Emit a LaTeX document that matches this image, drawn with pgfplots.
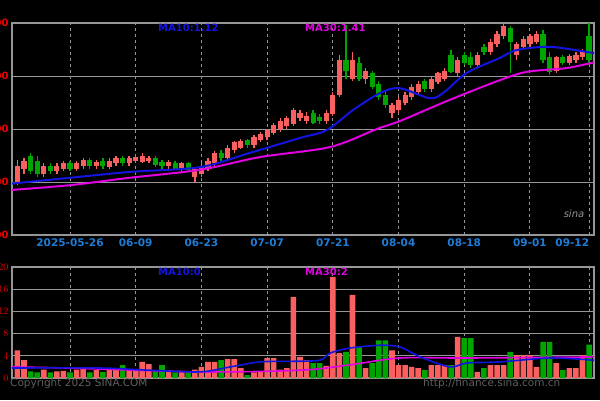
\documentclass[border=0pt]{standalone}
\usepackage{fontspec}
\setmainfont{DejaVu Sans}
\usepackage{pgfplots}
\usepackage{pgfplotstable}
\pgfplotsset{compat=1.18}
\definecolor{upred}{RGB}{250,96,96}
\definecolor{dngreen}{RGB}{0,165,0}
\definecolor{maten}{RGB}{20,20,225}
\definecolor{mathirty}{RGB}{225,0,225}
\definecolor{gridgray}{RGB}{150,150,150}
\definecolor{datblue}{RGB}{30,125,215}
\definecolor{axred}{RGB}{240,0,0}
\definecolor{textgray}{RGB}{95,95,95}

% daily bars: index (0 = 2025-05-26), open, high, low, close, volume
\pgfplotstableread{
i o h l c v
-8 9.00 9.42 8.95 9.30 5.0
-7 9.25 9.45 9.15 9.40 3.2
-6 9.50 9.55 9.15 9.20 1.2
-5 9.40 9.50 9.10 9.15 1.0
-4 9.15 9.35 9.10 9.30 1.5
-3 9.30 9.35 9.15 9.20 1.0
-2 9.20 9.35 9.15 9.30 1.2
-1 9.25 9.40 9.20 9.35 1.3
0 9.35 9.40 9.20 9.25 1.0
1 9.25 9.40 9.20 9.35 1.5
2 9.30 9.45 9.25 9.42 1.8
3 9.42 9.45 9.25 9.30 1.0
4 9.30 9.42 9.25 9.38 1.4
5 9.40 9.45 9.25 9.30 1.1
6 9.28 9.45 9.25 9.40 1.6
7 9.35 9.50 9.30 9.45 1.5
8 9.45 9.50 9.30 9.35 2.3
9 9.35 9.50 9.30 9.45 1.4
10 9.40 9.52 9.35 9.48 1.6
11 9.38 9.55 9.35 9.50 2.9
12 9.40 9.50 9.35 9.45 2.5
13 9.45 9.50 9.28 9.32 1.2
14 9.38 9.42 9.25 9.30 2.3
15 9.30 9.42 9.25 9.38 1.4
16 9.35 9.40 9.22 9.25 1.0
17 9.25 9.38 9.20 9.35 1.3
18 9.35 9.38 9.18 9.22 1.2
19 9.10 9.28 9.00 9.25 1.5
20 9.15 9.35 9.10 9.30 2.0
21 9.25 9.45 9.20 9.40 2.9
22 9.35 9.58 9.30 9.55 2.9
23 9.55 9.60 9.40 9.45 3.2
24 9.45 9.70 9.40 9.65 3.4
25 9.60 9.78 9.55 9.75 3.4
26 9.65 9.82 9.62 9.78 1.8
27 9.80 9.82 9.65 9.70 0.5
28 9.70 9.88 9.65 9.85 1.0
29 9.80 9.95 9.75 9.90 1.2
30 9.85 10.00 9.80 9.98 3.6
31 9.92 10.12 9.88 10.08 3.6
32 10.00 10.20 9.95 10.15 1.5
33 10.05 10.25 10.00 10.20 1.8
34 10.10 10.40 10.05 10.35 14.6
35 10.20 10.35 10.15 10.30 3.8
36 10.15 10.32 10.10 10.25 3.2
37 10.30 10.35 10.10 10.12 2.7
38 10.22 10.28 10.10 10.15 2.7
39 10.15 10.35 10.10 10.30 2.2
40 10.28 10.70 10.25 10.65 18.2
41 10.65 11.40 10.60 11.30 4.5
42 11.30 11.96 10.95 11.10 4.7
43 10.95 11.45 10.90 11.30 15.0
44 11.25 11.35 10.90 10.95 5.6
45 10.95 11.15 10.85 11.10 1.8
46 11.05 11.10 10.75 10.80 2.7
47 10.85 10.90 10.55 10.60 6.8
48 10.65 10.70 10.40 10.45 6.8
49 10.30 10.50 10.20 10.45 5.0
50 10.35 10.60 10.30 10.55 2.3
51 10.50 10.70 10.45 10.65 2.3
52 10.60 10.85 10.55 10.80 2.0
53 10.70 10.90 10.65 10.85 1.8
54 10.90 10.95 10.70 10.75 1.4
55 10.75 10.98 10.70 10.95 2.3
56 10.88 11.08 10.85 11.05 2.3
57 10.95 11.15 10.90 11.10 2.3
58 11.40 11.50 11.05 11.08 2.3
59 11.05 11.35 11.00 11.30 7.4
60 11.40 11.45 11.20 11.25 7.2
61 11.35 11.45 11.15 11.20 7.2
62 11.20 11.45 11.15 11.40 1.1
63 11.55 11.60 11.40 11.45 1.8
64 11.45 11.70 11.40 11.65 2.3
65 11.60 11.85 11.55 11.80 2.3
66 11.75 12.00 11.70 11.95 2.3
67 11.90 11.95 11.05 11.65 4.7
68 11.40 11.65 11.30 11.60 4.1
69 11.55 11.75 11.50 11.70 4.1
70 11.60 11.80 11.55 11.75 4.1
71 11.65 11.85 11.60 11.80 2.0
72 11.80 11.87 11.25 11.30 6.5
73 11.35 11.45 11.02 11.08 6.5
74 11.10 11.38 11.05 11.35 2.7
75 11.35 11.40 11.20 11.25 1.4
76 11.25 11.42 11.20 11.38 1.8
77 11.30 11.45 11.25 11.40 1.8
78 11.35 11.50 11.30 11.45 4.1
79 11.75 12.00 11.20 11.30 6.0
}\kline

\pgfplotsset{
  panel/.style={
    scale only axis, width=582pt,
    xmin=-8.83, xmax=79.75,
    xtick={0,10,20,30,40,50,60,70,79},
    axis line style={draw=gridgray, line width=1.3pt},
    xmajorgrids, ymajorgrids,
    x grid style={draw=gridgray, dashed, line width=0.9pt},
    y grid style={draw=gridgray, line width=1pt},
    major tick length=0pt,
    yticklabel style={text=axred, font=\fontsize{10}{12}\selectfont\bfseries},
  },
  isup/.style={x filter/.expression={\thisrow{c}>=\thisrow{o} ? x : nan}},
  isdown/.style={x filter/.expression={\thisrow{c}<\thisrow{o} ? x : nan}},
}

\begin{document}
\begin{tikzpicture}
\useasboundingbox (0pt,0pt) rectangle (600pt,400pt);
\fill[black] (0pt,0pt) rectangle (600pt,400pt);
\clip (0pt,0pt) rectangle (600pt,400pt);

% price panel
\begin{axis}[panel, at={(12pt,165pt)}, anchor=south west, height=212pt,
    ymin=8, ymax=12, ytick={8,9,10,11,12},
    yticklabels={8.00,9.00,10.00,11.00,12.00},
    xticklabels={2025-05-26,06-09,06-23,07-07,07-21,08-04,08-18,09-01,\makebox[0pt][r]{09-12}},
    xticklabel style={text=datblue, font=\fontsize{10.5}{13}\selectfont\bfseries}]
  % wicks
  \addplot[draw=none, isup, error bars/.cd, y dir=both, y explicit, error mark=none,
      error bar style={draw=upred, line width=1.3pt}]
    table[x=i, y expr={(\thisrow{h}+\thisrow{l})/2}, y error expr={(\thisrow{h}-\thisrow{l})/2}] {\kline};
  \addplot[draw=none, isdown, error bars/.cd, y dir=both, y explicit, error mark=none,
      error bar style={draw=dngreen, line width=1.3pt}]
    table[x=i, y expr={(\thisrow{h}+\thisrow{l})/2}, y error expr={(\thisrow{h}-\thisrow{l})/2}] {\kline};
  % bodies
  \addplot[draw=none, isup, error bars/.cd, y dir=both, y explicit, error mark=none,
      error bar style={draw=upred, line width=5.2pt}]
    table[x=i, y expr={(\thisrow{o}+\thisrow{c})/2}, y error expr={max(abs(\thisrow{c}-\thisrow{o})/2,0.01)}] {\kline};
  \addplot[draw=none, isdown, error bars/.cd, y dir=both, y explicit, error mark=none,
      error bar style={draw=dngreen, line width=5.2pt}]
    table[x=i, y expr={(\thisrow{o}+\thisrow{c})/2}, y error expr={max(abs(\thisrow{c}-\thisrow{o})/2,0.01)}] {\kline};
  % MA30
  \addplot[mathirty, line width=2pt, smooth] coordinates {
    (-8.9,8.85)(0,8.94)(9.1,9.08)(19.8,9.23)(28.9,9.47)(39.6,9.66)(46.7,10.0)
    (50.2,10.15)(57.8,10.55)(65.4,10.92)(69.6,11.08)(75.6,11.15)(79.8,11.26)};
  % MA10
  \addplot[maten, line width=2pt, smooth] coordinates {
    (-8.9,8.97)(0,9.08)(9.1,9.19)(19.8,9.28)(27.4,9.55)(35,9.83)(39.1,9.98)
    (43.1,10.36)(47.2,10.68)(50.2,10.77)(54.8,10.58)(57,10.7)(60.4,11.06)
    (65.4,11.34)(68,11.49)(73.1,11.55)(79.8,11.43)};
\end{axis}

% volume panel
\begin{axis}[panel, at={(12pt,22pt)}, anchor=south west, height=111pt,
    ymin=0, ymax=20, ytick={0,4,8,12,16,20}, xticklabel={}]
  \addplot[ybar, bar width=0.85, bar shift=0pt, fill=upred, draw=none, isup]
    table[x=i, y=v] {\kline};
  \addplot[ybar, bar width=0.85, bar shift=0pt, fill=dngreen, draw=none, isdown]
    table[x=i, y=v] {\kline};
  \addplot[mathirty, line width=1.6pt, smooth] coordinates {
    (-8.9,2.0)(-0.5,1.8)(19.8,1.1)(35,1.4)(42.2,2.3)(50.2,3.6)(60.4,3.6)(79.8,3.8)};
  \addplot[maten, line width=1.6pt, smooth] coordinates {
    (-8.9,1.8)(4.6,1.8)(12.2,1.4)(19.8,1.1)(24.4,2.0)(28.9,2.9)(33.5,3.0)(38,3.2)
    (39.6,4.5)(42.6,5.4)(47.2,5.9)(50.2,5.6)(53.3,3.8)(57.8,2.0)(60.4,2.7)
    (65.4,2.9)(73.1,3.6)(79.8,3.2)};
\end{axis}

\begin{scope}[every node/.style={inner sep=0pt, font=\fontsize{10}{12}\selectfont\bfseries}]
  \node[text=maten, anchor=west] at (158pt,372pt) {MA10:1.12};
  \node[text=mathirty, anchor=west] at (305pt,372pt) {MA30:1.41};
  \node[text=maten, anchor=west] at (158pt,128pt) {MA10:0};
  \node[text=mathirty, anchor=west] at (305pt,128pt) {MA30:2};
  \node[text=textgray, anchor=west, font=\fontsize{10.5}{12}\selectfont] at (10pt,16pt) {Copyright 2025 SINA.COM};
  \node[text=textgray, anchor=west, font=\fontsize{10.5}{12}\selectfont] at (423pt,16pt) {http://finance.sina.com.cn};
  \node[text=gridgray, font=\fontsize{10}{12}\itshape] at (574pt,186pt) {sina};
\end{scope}
\end{tikzpicture}
\end{document}
